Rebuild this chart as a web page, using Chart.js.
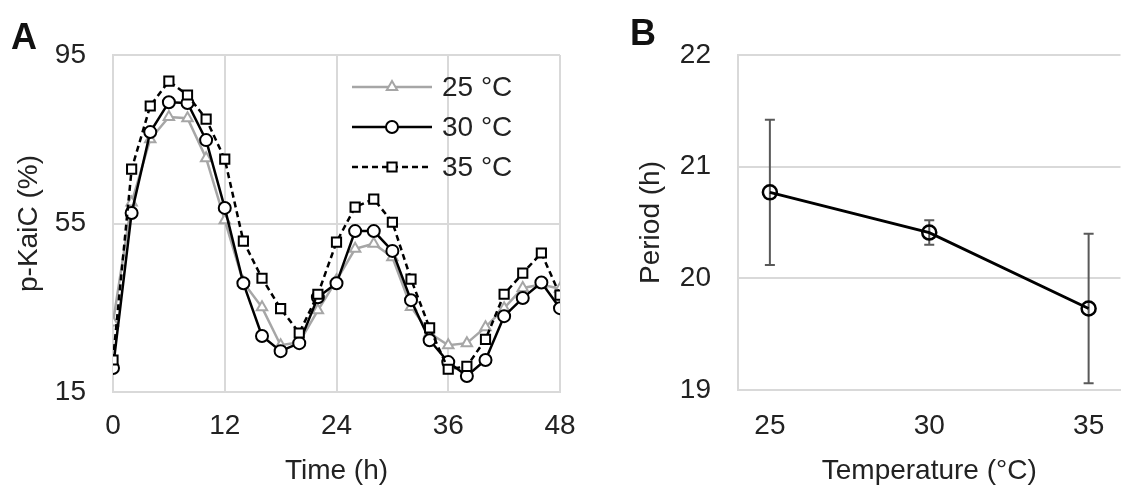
<!DOCTYPE html>
<html>
<head>
<meta charset="utf-8">
<script src="https://cdn.jsdelivr.net/npm/chart.js@4.4.1/dist/chart.umd.min.js"></script>
<style>
    html, body { margin: 0; padding: 0; background: #fff; overflow: hidden; width: 1122px; height: 489px; }
    canvas { position: absolute; top: 0; }
    #chartA { left: 0; }
    #chartB { left: 600px; }
    .panel-label { position: absolute; z-index: 2; font: bold 36px 'Liberation Sans', Arial, sans-serif; color: #111; line-height: normal; }
</style>
</head>
<body>
<div class="panel-label" style="left:11px; top:16px;">A</div>
<div class="panel-label" style="left:630px; top:12px;">B</div>
<canvas id="chartA" width="600" height="489"></canvas>
<canvas id="chartB" width="530" height="489"></canvas>
<script>
// --- Panel A data: p-KaiC (%) over time ---
const timeH = [0, 2, 4, 6, 8, 10, 12, 14, 16, 18, 20, 22, 24, 26, 28, 30, 32, 34, 36, 38, 40, 42, 44, 46, 48];
const kaic25 = [31.5, 60, 75, 80.3, 80, 70.5, 55.8, 41, 35.1, 26.1, 26.8, 34.4, 41.5, 49, 50.2, 47, 35.2, 29, 26.1, 26.6, 30.4, 34.9, 39.7, 40.5, 39.5];
const kaic30 = [20.7, 57.5, 76.7, 83.8, 83.6, 74.8, 58.7, 40.8, 28.3, 24.7, 26.6, 37.5, 40.8, 53.2, 53.2, 48.5, 36.8, 27.3, 22.1, 18.8, 22.6, 33.0, 37.3, 41.0, 34.9];
const kaic35 = [22.6, 67.9, 82.9, 88.8, 85.5, 79.8, 70.3, 50.8, 42.0, 34.8, 29.0, 38.2, 50.6, 58.9, 60.8, 55.3, 41.8, 30.2, 20.4, 21.1, 27.5, 38.2, 43.2, 48.0, 38.0];
const timeTicks = [0, 12, 24, 36, 48];
const kaicTicks = [15, 55, 95];

// --- Panel B data: period vs temperature ---
const tempC = [25, 30, 35];
const periodH = [20.77, 20.41, 19.73];
const periodErr = [0.65, 0.11, 0.67];
const tempTicks = [25, 30, 35];
const periodTicks = [19, 20, 21, 22];

const FONT = "'Liberation Sans', Arial, sans-serif";
const TEXT = '#222';
const GRID = '#d9d9d9';

Chart.defaults.font.family = FONT;
Chart.defaults.font.size = 28;
Chart.defaults.color = TEXT;

const toPoints = (xs, ys) => xs.map((x, i) => ({ x: x, y: ys[i] }));

// draws a marker the same way the dataset does (for the legend)
function drawMarker(ctx, style, x, y, r, stroke, fill, width) {
    ctx.save();
    ctx.setLineDash([]);
    ctx.strokeStyle = stroke;
    ctx.fillStyle = fill;
    ctx.lineWidth = width;
    ctx.beginPath();
    if (style === 'triangle') {
        for (let k = 0; k < 3; k++) {
            const a = k * 2 * Math.PI / 3;
            const px = x + Math.sin(a) * r, py = y - Math.cos(a) * r;
            k === 0 ? ctx.moveTo(px, py) : ctx.lineTo(px, py);
        }
        ctx.closePath();
    } else if (style === 'rect') {
        const s = r * Math.SQRT1_2;
        ctx.rect(x - s, y - s, 2 * s, 2 * s);
    } else {
        ctx.arc(x, y, r, 0, Math.PI * 2);
    }
    ctx.fill();
    ctx.stroke();
    ctx.restore();
}

// legend inside the plot, line + marker + label
const insideLegend = {
    id: 'insideLegend',
    afterDraw(chart) {
        const { ctx, chartArea } = chart;
        const x0 = chartArea.left + 239, x1 = chartArea.left + 319;
        chart.data.datasets.forEach((ds, i) => {
            const y = chartArea.top + 32 + i * 40;
            ctx.save();
            ctx.strokeStyle = ds.borderColor;
            ctx.lineWidth = ds.borderWidth;
            ctx.setLineDash(ds.borderDash || []);
            ctx.beginPath();
            ctx.moveTo(x0, y);
            ctx.lineTo(x1, y);
            ctx.stroke();
            drawMarker(ctx, ds.pointStyle, (x0 + x1) / 2, y, ds.pointRadius, ds.pointBorderColor, ds.pointBackgroundColor, ds.pointBorderWidth);
            ctx.fillStyle = TEXT;
            ctx.font = '28px ' + FONT;
            ctx.textBaseline = 'middle';
            ctx.fillText(ds.label, x1 + 10, y + 1);
            ctx.restore();
        });
    }
};

new Chart(document.getElementById('chartA'), {
    type: 'line',
    data: {
        datasets: [
            {
                label: '25 °C', data: toPoints(timeH, kaic25), order: 3,
                borderColor: '#a6a6a6', borderWidth: 2.5,
                pointStyle: 'triangle', pointRadius: 6, pointBorderWidth: 2,
                pointBorderColor: '#a6a6a6', pointBackgroundColor: '#fff'
            },
            {
                label: '30 °C', data: toPoints(timeH, kaic30), order: 2,
                borderColor: '#000', borderWidth: 2.5,
                pointStyle: 'circle', pointRadius: 6, pointBorderWidth: 2,
                pointBorderColor: '#000', pointBackgroundColor: '#fff'
            },
            {
                label: '35 °C', data: toPoints(timeH, kaic35), order: 1,
                borderColor: '#000', borderWidth: 2.5, borderDash: [6, 4],
                pointStyle: 'rect', pointRadius: 6.5, pointBorderWidth: 2,
                pointBorderColor: '#000', pointBackgroundColor: '#fff'
            }
        ]
    },
    options: {
        responsive: false,
        animation: false,
        layout: { padding: { top: 55, right: 40, left: 0, bottom: 0 } },
        plugins: { legend: { display: false }, tooltip: { enabled: false } },
        scales: {
            x: {
                type: 'linear', min: 0, max: 48,
                afterBuildTicks: s => { s.ticks = timeTicks.map(v => ({ value: v })); },
                ticks: { padding: 17 },
                grid: { color: GRID, lineWidth: 2, drawTicks: false },
                border: { color: GRID, width: 2 },
                title: { display: true, text: 'Time (h)', padding: { top: 0, bottom: 1 } },
                afterFit: s => { s.height = 97; }
            },
            y: {
                min: 15, max: 95,
                afterBuildTicks: s => { s.ticks = kaicTicks.map(v => ({ value: v })); },
                ticks: { padding: 27 },
                grid: { color: GRID, lineWidth: 2, drawTicks: false },
                border: { color: GRID, width: 2 },
                title: { display: true, text: 'p-KaiC (%)', padding: { top: 12, bottom: 0 } },
                afterFit: s => { s.width = 113; }
            }
        }
    },
    plugins: [insideLegend]
});

// vertical error bars with caps, drawn under the line
const errorBars = {
    id: 'errorBars',
    beforeDatasetsDraw(chart) {
        const { ctx, scales } = chart;
        ctx.save();
        ctx.strokeStyle = '#595959';
        ctx.lineWidth = 2;
        tempC.forEach((t, i) => {
            const px = scales.x.getPixelForValue(t);
            const top = scales.y.getPixelForValue(periodH[i] + periodErr[i]);
            const bot = scales.y.getPixelForValue(periodH[i] - periodErr[i]);
            ctx.beginPath();
            ctx.moveTo(px, top); ctx.lineTo(px, bot);
            ctx.moveTo(px - 5, top); ctx.lineTo(px + 5, top);
            ctx.moveTo(px - 5, bot); ctx.lineTo(px + 5, bot);
            ctx.stroke();
        });
        ctx.restore();
    }
};

new Chart(document.getElementById('chartB'), {
    type: 'line',
    data: {
        datasets: [{
            label: 'Period', data: toPoints(tempC, periodH),
            borderColor: '#000', borderWidth: 3,
            pointStyle: 'circle', pointRadius: 7, pointBorderWidth: 2.5,
            pointBorderColor: '#000', pointBackgroundColor: 'rgba(0,0,0,0)'
        }]
    },
    options: {
        responsive: false,
        animation: false,
        layout: { padding: { top: 55, right: 5, left: 0, bottom: 0 } },
        plugins: { legend: { display: false }, tooltip: { enabled: false } },
        scales: {
            x: {
                type: 'linear', min: 24, max: 36,
                afterBuildTicks: s => { s.ticks = tempTicks.map(v => ({ value: v })); },
                ticks: { padding: 11 },
                grid: { display: false },
                border: { color: GRID, width: 2 },
                title: { display: true, text: 'Temperature (°C)', padding: { top: 0, bottom: 1 } },
                afterFit: s => { s.height = 99; }
            },
            y: {
                min: 19, max: 22,
                afterBuildTicks: s => { s.ticks = periodTicks.map(v => ({ value: v })); },
                ticks: { padding: 27 },
                grid: { color: GRID, lineWidth: 2, drawTicks: false },
                border: { color: GRID, width: 2 },
                title: { display: true, text: 'Period (h)', padding: { top: 34, bottom: 0 } },
                afterFit: s => { s.width = 138; }
            }
        }
    },
    plugins: [errorBars]
});
</script>
</body>
</html>
